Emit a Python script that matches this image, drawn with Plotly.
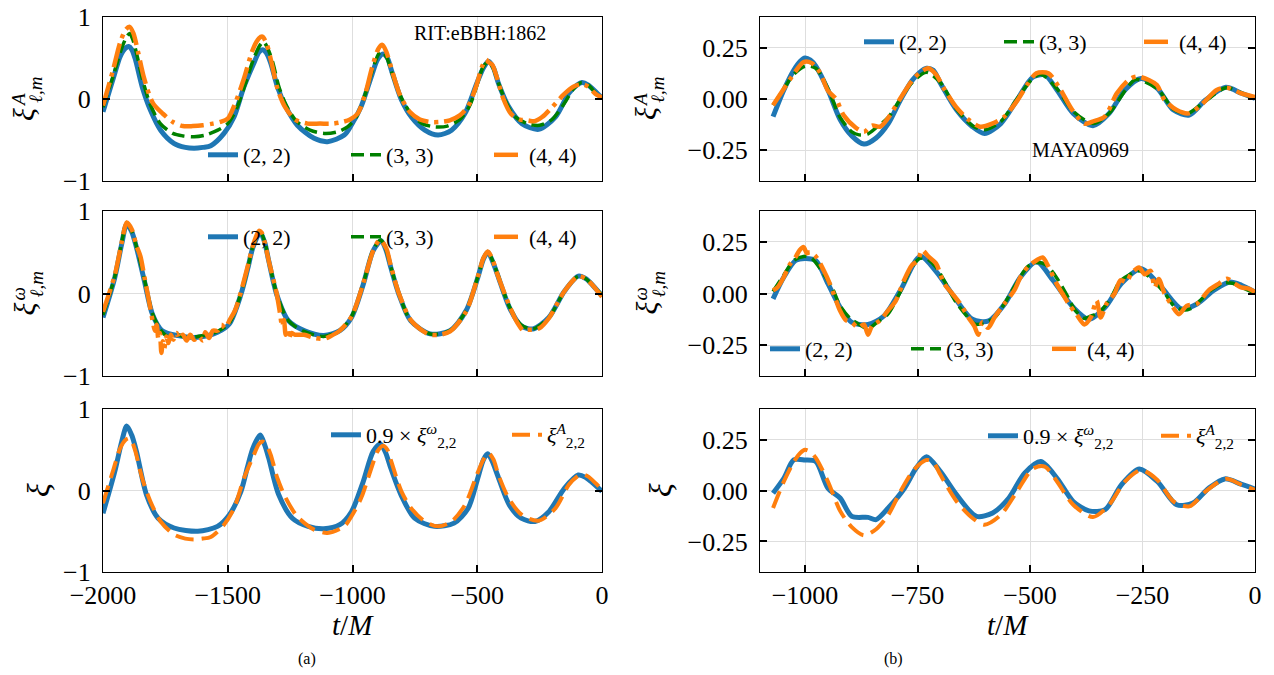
import plotly.graph_objects as go
from plotly.subplots import make_subplots

# ---------------- LEFT COLUMN (RIT:eBBH:1862) ----------------
tA22_L = [-2000,-1957,-1931,-1910,-1897,-1884,-1870,-1843,-1810,-1769,-1716,-1670,-1635,-1600,-1568,-1515,-1475,-1435,-1395,-1375,-1361,-1345,-1328,-1301,-1268,-1221,-1154,-1100,-1033,-1005,-965,-925,-900,-878,-860,-844,-804,-764,-710,-657,-603,-549,-502,-475,-455,-435,-415,-375,-321,-254,-187,-133,-100,-80,-55,-26,0]
vA22_L = [-0.155,0.27,0.52,0.62,0.64,0.60,0.48,0.15,-0.135,-0.38,-0.54,-0.59,-0.60,-0.59,-0.57,-0.42,-0.22,0.15,0.44,0.57,0.60,0.56,0.44,0.15,-0.09,-0.32,-0.48,-0.52,-0.44,-0.32,-0.09,0.27,0.48,0.55,0.50,0.35,-0.01,-0.22,-0.38,-0.44,-0.38,-0.175,0.19,0.38,0.46,0.38,0.19,-0.09,-0.30,-0.37,-0.22,0.07,0.17,0.20,0.17,0.09,0.01]

tA33_L = [-2000,-1957,-1925,-1905,-1893,-1880,-1865,-1840,-1810,-1770,-1720,-1680,-1635,-1590,-1540,-1500,-1465,-1430,-1395,-1370,-1357,-1340,-1320,-1295,-1265,-1225,-1170,-1113,-1060,-1020,-985,-950,-920,-895,-880,-862,-840,-805,-765,-720,-670,-620,-570,-530,-500,-478,-458,-440,-418,-390,-355,-300,-250,-200,-150,-115,-82,-55,-25,0]
vA33_L = [-0.10,0.30,0.62,0.76,0.80,0.72,0.55,0.22,-0.07,-0.30,-0.42,-0.45,-0.46,-0.44,-0.38,-0.30,-0.12,0.18,0.50,0.66,0.70,0.62,0.45,0.15,-0.08,-0.27,-0.38,-0.42,-0.40,-0.34,-0.22,0.05,0.35,0.55,0.58,0.50,0.30,0.02,-0.18,-0.30,-0.34,-0.33,-0.25,-0.08,0.18,0.38,0.45,0.40,0.22,0.00,-0.20,-0.30,-0.32,-0.25,-0.05,0.12,0.20,0.17,0.07,0.02]

tA44_L = [-2000,-1960,-1930,-1908,-1893,-1878,-1860,-1835,-1800,-1760,-1720,-1680,-1640,-1600,-1560,-1530,-1500,-1470,-1435,-1400,-1375,-1361,-1345,-1325,-1300,-1270,-1230,-1180,-1130,-1080,-1040,-1010,-980,-950,-920,-895,-880,-865,-845,-810,-770,-730,-690,-650,-610,-570,-535,-505,-480,-465,-455,-440,-420,-395,-365,-330,-300,-270,-240,-200,-155,-115,-82,-55,-25,0]
vA44_L = [-0.08,0.35,0.70,0.85,0.88,0.80,0.58,0.25,-0.05,-0.18,-0.28,-0.33,-0.33,-0.32,-0.30,-0.28,-0.24,-0.05,0.25,0.60,0.74,0.76,0.68,0.45,0.12,-0.10,-0.25,-0.30,-0.30,-0.30,-0.28,-0.25,-0.18,0.05,0.40,0.62,0.66,0.58,0.38,0.05,-0.16,-0.25,-0.28,-0.28,-0.26,-0.20,-0.08,0.15,0.40,0.48,0.45,0.42,0.25,0.00,-0.18,-0.25,-0.26,-0.27,-0.22,-0.10,0.05,0.15,0.18,0.15,0.06,0.02]

tW22_L = [-2000,-1953,-1925,-1905,-1885,-1866,-1834,-1802,-1763,-1700,-1620,-1541,-1494,-1447,-1420,-1399,-1370,-1352,-1336,-1304,-1257,-1194,-1115,-1051,-1004,-957,-917,-885,-865,-846,-814,-767,-688,-609,-545,-498,-475,-458,-440,-419,-371,-324,-277,-213,-150,-95,-65,-40,0]
vW22_L = [-0.29,0.19,0.60,0.84,0.75,0.56,0.15,-0.25,-0.45,-0.51,-0.53,-0.47,-0.37,-0.01,0.30,0.56,0.74,0.62,0.40,-0.01,-0.33,-0.45,-0.51,-0.45,-0.29,0.11,0.52,0.64,0.52,0.31,-0.01,-0.33,-0.49,-0.45,-0.21,0.19,0.42,0.50,0.40,0.23,-0.17,-0.39,-0.43,-0.29,0.03,0.21,0.18,0.11,-0.03]

tW33_L = [-2000,-1953,-1925,-1905,-1885,-1866,-1834,-1802,-1770,-1740,-1700,-1660,-1620,-1580,-1541,-1494,-1447,-1420,-1399,-1372,-1352,-1336,-1304,-1257,-1194,-1115,-1051,-1004,-957,-917,-887,-865,-846,-814,-767,-688,-609,-545,-498,-475,-458,-440,-419,-371,-324,-277,-213,-150,-95,-65,-40,0]
vW33_L = [-0.26,0.20,0.62,0.86,0.76,0.57,0.17,-0.24,-0.44,-0.52,-0.50,-0.54,-0.52,-0.50,-0.46,-0.36,0.00,0.31,0.57,0.76,0.63,0.41,0.00,-0.33,-0.46,-0.52,-0.45,-0.28,0.12,0.53,0.65,0.53,0.32,0.00,-0.33,-0.49,-0.45,-0.21,0.20,0.43,0.51,0.41,0.24,-0.16,-0.38,-0.43,-0.29,0.03,0.21,0.18,0.11,-0.02]

tW44_L = [-2000,-1953,-1925,-1905,-1885,-1866,-1850,-1834,-1812,-1800,-1792,-1785,-1778,-1772,-1766,-1760,-1754,-1746,-1738,-1728,-1718,-1705,-1695,-1680,-1665,-1650,-1635,-1615,-1600,-1590,-1575,-1560,-1540,-1525,-1510,-1494,-1470,-1447,-1420,-1399,-1375,-1365,-1352,-1336,-1304,-1290,-1282,-1275,-1268,-1262,-1255,-1245,-1230,-1194,-1150,-1115,-1090,-1051,-1004,-957,-917,-890,-865,-846,-814,-767,-720,-688,-650,-609,-545,-498,-475,-458,-440,-419,-371,-340,-315,-300,-277,-250,-213,-150,-95,-65,-40,0]
vW44_L = [-0.22,0.22,0.62,0.86,0.78,0.58,0.45,0.20,-0.15,-0.35,-0.45,-0.38,-0.55,-0.48,-0.72,-0.58,-0.66,-0.52,-0.60,-0.50,-0.56,-0.48,-0.55,-0.50,-0.57,-0.50,-0.56,-0.52,-0.57,-0.47,-0.54,-0.45,-0.45,-0.38,-0.42,-0.33,-0.20,0.02,0.33,0.58,0.76,0.74,0.62,0.40,0.00,-0.25,-0.40,-0.32,-0.50,-0.42,-0.55,-0.48,-0.50,-0.50,-0.54,-0.55,-0.52,-0.45,-0.28,0.12,0.52,0.65,0.55,0.33,0.00,-0.32,-0.45,-0.50,-0.50,-0.46,-0.22,0.20,0.43,0.51,0.42,0.23,-0.15,-0.35,-0.45,-0.44,-0.44,-0.42,-0.30,0.03,0.21,0.18,0.11,-0.04]

tX_L = [-2000,-1953,-1925,-1905,-1885,-1866,-1826,-1779,-1715,-1620,-1541,-1494,-1447,-1420,-1399,-1370,-1352,-1336,-1296,-1241,-1178,-1115,-1051,-1004,-957,-917,-888,-868,-846,-806,-751,-672,-593,-537,-498,-475,-458,-440,-419,-371,-324,-269,-213,-150,-95,-65,-40,0]
vX_L = [-0.28,0.23,0.60,0.79,0.68,0.48,-0.05,-0.34,-0.46,-0.50,-0.44,-0.30,-0.01,0.30,0.52,0.68,0.56,0.40,-0.05,-0.34,-0.44,-0.47,-0.42,-0.26,0.11,0.48,0.57,0.47,0.27,-0.05,-0.34,-0.44,-0.40,-0.22,0.15,0.38,0.45,0.36,0.19,-0.18,-0.34,-0.38,-0.26,0.03,0.19,0.16,0.10,-0.01]

# ---------------- RIGHT COLUMN (MAYA0969) ----------------
tA22_R = [-1071,-1047,-1025,-1010,-1000,-988,-976,-949,-922,-896,-869,-842,-815,-788,-762,-745,-730,-715,-699,-663,-628,-601,-565,-529,-494,-467,-440,-404,-360,-324,-289,-253,-217,-181,-146,-110,-65,-30,0]
vA22_R = [-0.086,0.044,0.14,0.185,0.20,0.19,0.16,0.044,-0.10,-0.18,-0.22,-0.19,-0.12,-0.005,0.09,0.13,0.15,0.14,0.077,-0.054,-0.135,-0.168,-0.12,-0.005,0.106,0.117,0.044,-0.07,-0.13,-0.07,0.044,0.10,0.052,-0.054,-0.078,-0.005,0.057,0.028,0.003]

tA33_R = [-1071,-1047,-1025,-1000,-976,-949,-922,-896,-880,-860,-842,-815,-788,-762,-730,-699,-663,-628,-600,-565,-529,-494,-475,-440,-404,-360,-324,-289,-265,-217,-181,-150,-110,-65,-30,0]
vA33_R = [-0.03,0.05,0.12,0.16,0.15,0.05,-0.09,-0.16,-0.175,-0.17,-0.14,-0.09,0.00,0.08,0.13,0.08,-0.05,-0.13,-0.15,-0.11,0.00,0.10,0.12,0.05,-0.06,-0.12,-0.07,0.04,0.095,0.05,-0.05,-0.07,-0.01,0.055,0.03,0.00]

tA44_R = [-1071,-1047,-1029,-1003,-985,-967,-949,-931,-914,-887,-869,-851,-833,-816,-789,-762,-744,-726,-709,-691,-664,-637,-611,-584,-557,-530,-504,-486,-459,-432,-406,-379,-361,-334,-307,-281,-263,-236,-218,-201,-174,-147,-120,-85,-62,-31,0]
vA44_R = [-0.03,0.05,0.11,0.18,0.175,0.13,0.04,0.00,-0.08,-0.14,-0.16,-0.13,-0.135,-0.095,0.00,0.09,0.13,0.15,0.12,0.05,-0.04,-0.10,-0.135,-0.12,-0.086,-0.013,0.077,0.125,0.125,0.044,-0.054,-0.12,-0.11,-0.086,0.028,0.093,0.11,0.093,0.068,-0.005,-0.054,-0.07,-0.03,0.044,0.055,0.028,0.01]

tW22_R = [-1071,-1047,-1021,-1000,-976,-949,-922,-896,-860,-824,-788,-744,-708,-663,-628,-592,-556,-521,-485,-449,-404,-369,-333,-297,-253,-208,-163,-128,-92,-56,-30,0]
vW22_R = [-0.026,0.08,0.16,0.17,0.16,0.048,-0.067,-0.14,-0.15,-0.108,0.015,0.18,0.105,-0.034,-0.125,-0.133,-0.05,0.08,0.154,0.064,-0.067,-0.125,-0.067,0.048,0.12,0.03,-0.075,-0.05,0.015,0.056,0.04,0.007]

tW33_R = [-1071,-1047,-1025,-1003,-985,-960,-940,-922,-900,-880,-860,-840,-816,-790,-765,-745,-730,-710,-690,-665,-640,-620,-600,-580,-557,-530,-505,-485,-465,-445,-420,-400,-380,-365,-345,-320,-300,-280,-258,-240,-220,-200,-180,-160,-140,-120,-95,-70,-50,-30,0]
vW33_R = [0.01,0.09,0.16,0.18,0.17,0.10,0.03,-0.06,-0.12,-0.15,-0.17,-0.14,-0.10,0.00,0.12,0.17,0.17,0.13,0.06,-0.04,-0.11,-0.15,-0.14,-0.12,-0.05,0.05,0.13,0.15,0.14,0.09,0.00,-0.08,-0.12,-0.11,-0.09,-0.02,0.06,0.09,0.11,0.09,0.05,0.00,-0.06,-0.08,-0.07,-0.03,0.02,0.05,0.05,0.03,0.00]

tW44_R = [-1071,-1061,-1047,-1034,-1020,-1012,-1003,-996,-989,-976,-958,-945,-931,-922,-909,-896,-882,-869,-860,-851,-833,-816,-798,-780,-762,-749,-740,-726,-709,-691,-673,-655,-637,-624,-615,-606,-593,-579,-557,-535,-521,-504,-486,-472,-459,-441,-428,-414,-397,-379,-365,-352,-343,-330,-312,-299,-285,-276,-258,-245,-232,-223,-214,-201,-187,-169,-152,-129,-103,-80,-62,-45,-31,-13,0]
vW44_R = [0.015,0.03,0.08,0.14,0.18,0.21,0.225,0.195,0.20,0.18,0.11,0.048,-0.034,-0.084,-0.13,-0.14,-0.166,-0.15,-0.20,-0.157,-0.13,-0.084,-0.034,0.064,0.138,0.16,0.21,0.18,0.146,0.048,0.00,-0.05,-0.116,-0.157,-0.20,-0.14,-0.166,-0.116,-0.05,0.015,0.08,0.13,0.16,0.175,0.13,0.048,0.00,-0.05,-0.10,-0.15,-0.116,-0.034,-0.116,-0.05,0.00,0.064,0.056,0.093,0.126,0.093,0.11,0.03,0.07,0.00,-0.05,-0.10,-0.06,-0.05,0.015,0.048,0.072,0.048,0.03,0.023,0.007]

tX_R = [-1071,-1047,-1025,-1000,-976,-949,-922,-896,-860,-842,-815,-779,-753,-730,-699,-663,-619,-583,-547,-512,-476,-440,-404,-369,-333,-297,-257,-217,-174,-138,-103,-67,-31,0]
vX_R = [-0.013,0.06,0.15,0.15,0.142,0.011,-0.037,-0.127,-0.132,-0.143,-0.086,0.011,0.11,0.166,0.093,-0.021,-0.127,-0.11,-0.037,0.085,0.142,0.06,-0.054,-0.10,-0.094,0.028,0.106,0.044,-0.07,-0.062,0.011,0.057,0.031,0.007]

# tick settings
left_xticks = [-2000, -1500, -1000, -500, 0]
right_xticks = [-1000, -750, -500, -250, 0]
left_yticks = [-1, 0, 1]
right_yticks = [-0.25, 0.0, 0.25]

BLUE = "#1f77b4"
GREEN = "#008000"
ORANGE = "#ff7f0e"
FONT = "Liberation Serif"

fig = make_subplots(rows=3, cols=2)

def add(t, v, row, col, name, color, width, dash, legend):
    fig.add_trace(go.Scatter(x=t, y=v, mode="lines", name=name,
                             line=dict(color=color, width=width, dash=dash, shape="spline", smoothing=0.8),
                             legend=legend, showlegend=True), row=row, col=col)

DASH33 = "13px,6px"
DASH44 = "24px,6px,4px,6px"
DASHX = "18px,8px"

add(tA22_L, vA22_L, 1, 1, "(2, 2)", BLUE, 5, "solid", "legend")
add(tA33_L, vA33_L, 1, 1, "(3, 3)", GREEN, 3.5, DASH33, "legend")
add(tA44_L, vA44_L, 1, 1, "(4, 4)", ORANGE, 4.5, DASH44, "legend")

add(tW22_L, vW22_L, 2, 1, "(2, 2)", BLUE, 5, "solid", "legend2")
add(tW33_L, vW33_L, 2, 1, "(3, 3)", GREEN, 3.5, DASH33, "legend2")
add(tW44_L, vW44_L, 2, 1, "(4, 4)", ORANGE, 4.5, DASH44, "legend2")

add(tX_L, vX_L, 3, 1, "0.9 × <i>ξ</i><sup><i>ω</i></sup><sub>2,2</sub>", BLUE, 5, "solid", "legend3")
add(tA22_L, vA22_L, 3, 1, "<i>ξ</i><sup><i>A</i></sup><sub>2,2</sub>", ORANGE, 4, DASHX, "legend3")

add(tA22_R, vA22_R, 1, 2, "(2, 2)", BLUE, 5, "solid", "legend4")
add(tA33_R, vA33_R, 1, 2, "(3, 3)", GREEN, 3.5, DASH33, "legend4")
add(tA44_R, vA44_R, 1, 2, "(4, 4)", ORANGE, 4.5, DASH44, "legend4")

add(tW22_R, vW22_R, 2, 2, "(2, 2)", BLUE, 5, "solid", "legend5")
add(tW33_R, vW33_R, 2, 2, "(3, 3)", GREEN, 3.5, DASH33, "legend5")
add(tW44_R, vW44_R, 2, 2, "(4, 4)", ORANGE, 4.5, DASH44, "legend5")

add(tX_R, vX_R, 3, 2, "0.9 × <i>ξ</i><sup><i>ω</i></sup><sub>2,2</sub>", BLUE, 5, "solid", "legend6")
add(tA22_R, vA22_R, 3, 2, "<i>ξ</i><sup><i>A</i></sup><sub>2,2</sub>", ORANGE, 4, DASHX, "legend6")

W, H = 1274, 675
xdom_L = [103 / W, 602 / W]
xdom_R = [760 / W, 1255 / W]
ydoms = [[1 - 181 / H, 1 - 17 / H], [1 - 376 / H, 1 - 211 / H], [1 - 572 / H, 1 - 409 / H]]

axis_common = dict(showline=True, linecolor="black", linewidth=1.3, ticks="inside", ticklen=7,
                   tickwidth=1.8, tickcolor="black", showgrid=True, gridcolor="#dedede", gridwidth=1,
                   zeroline=False, automargin=False,
                   tickfont=dict(family=FONT, size=26, color="black"))

for r in range(1, 4):
    for c in range(1, 3):
        xd = xdom_L if c == 1 else xdom_R
        fig.update_xaxes(row=r, col=c, domain=xd, mirror=True,
                         range=[-2000, 0] if c == 1 else [-1100, 0],
                         tickvals=left_xticks if c == 1 else right_xticks,
                         showticklabels=(r == 3), **axis_common)
        fig.update_yaxes(row=r, col=c, domain=ydoms[r - 1], mirror="ticks",
                         range=[-1, 1] if c == 1 else [-0.4, 0.4],
                         tickvals=left_yticks if c == 1 else right_yticks,
                         tickformat="d" if c == 1 else ".2f", ticklabelstandoff=6,
                         **axis_common)

leg_common = dict(orientation="h", xanchor="left", yanchor="middle", bgcolor="rgba(0,0,0,0)",
                  font=dict(family=FONT, size=22, color="black"), entrywidthmode="pixels",
                  itemwidth=30, tracegroupgap=0)

fig.update_layout(
    width=W, height=H, margin=dict(l=0, r=0, t=0, b=0, autoexpand=False),
    paper_bgcolor="white", plot_bgcolor="white",
    font=dict(family=FONT, color="black"),
    legend=dict(x=203 / W, y=1 - 155 / H, entrywidth=98, **leg_common),
    legend2=dict(x=203 / W, y=1 - 237 / H, entrywidth=98, **leg_common),
    legend3=dict(x=326 / W, y=1 - 435 / H, entrywidth=136, **leg_common),
    legend4=dict(x=859 / W, y=1 - 42 / H, entrywidth=95, **leg_common),
    legend5=dict(x=765 / W, y=1 - 349 / H, entrywidth=96, **leg_common),
    legend6=dict(x=983 / W, y=1 - 436 / H, entrywidth=128, **leg_common),
)

ann = []
def A(text, x, y, size, angle=0):
    ann.append(dict(text=text, x=x / W, y=1 - y / H, xref="paper", yref="paper", showarrow=False,
                    textangle=angle, xanchor="center", yanchor="middle",
                    font=dict(family=FONT, size=size, color="black")))

# stacked y-axis titles: xi with superscript and subscript, rotated
panel_centers = [99, 293.5]
for x0 in (0, 622):
    for yc, sup in zip(panel_centers, ("A", "ω")):
        A("<i>ξ</i>", x0 + 24, yc + 15, 30, -90)
        A("<i>%s</i>" % sup, x0 + 18, yc + 1, 19, -90)
        A("<i>ℓ,m</i>", x0 + 36, yc - 9, 19, -90)
    A("<i>ξ</i>", x0 + 38, 490, 32, -90)

A("<i>t</i>/<i>M</i>", 353, 625, 29)
A("<i>t</i>/<i>M</i>", 1008, 625, 29)
A("(a)", 307, 659, 16)
A("(b)", 893, 659, 16)
A("RIT:eBBH:1862", 480, 33, 20)
A("MAYA0969", 1080, 150, 20)
fig.update_layout(annotations=ann)

fig.write_html("out.html", post_script="document.body.style.margin='0px';",
               config={"displayModeBar": False})
